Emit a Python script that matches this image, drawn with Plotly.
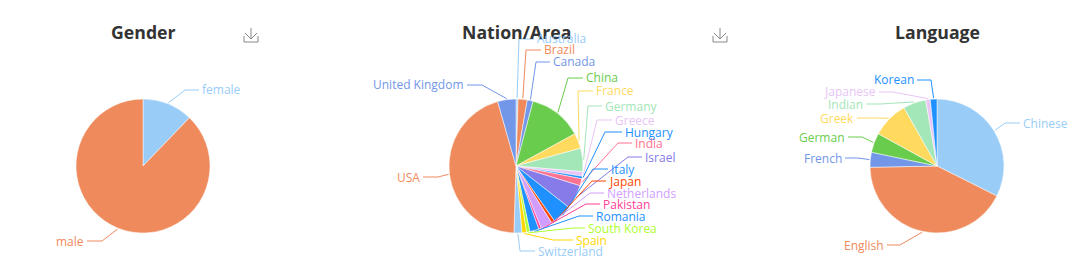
import math
import plotly.graph_objects as go

FONT = "Open Sans"

gender_labels = ["female", "male"]
gender_values = [12.2, 87.8]
gender_colors = ["#99CCF7", "#EF8A5C"]

nation_labels = ["Australia", "Brazil", "Canada", "China", "France", "Germany", "Greece",
                 "Hungary", "India", "Israel", "Italy", "Japan", "Netherlands", "Pakistan",
                 "Romania", "South Korea", "Spain", "Switzerland", "USA", "United Kingdom"]
nation_values = [0.5, 2.2, 1.4, 12.9, 3.7, 5.6, 1.1, 0.6, 1.7, 5.8, 4.7, 0.8, 2.8, 0.6,
                 2.2, 0.8, 1.1, 1.9, 45.0, 4.4]
nation_colors = ["#99CCF7", "#EF8A5C", "#7296E8", "#69CC4C", "#FFDA5F", "#A3E6B7", "#E8C5F5",
                 "#1E90FF", "#FF7290", "#867BE8", "#1E90FF", "#FF4500", "#D19EFF", "#FF3E96",
                 "#1E90FF", "#ADFF2F", "#FFD700", "#99CCF7", "#EF8A5C", "#7296E8"]

language_labels = ["Chinese", "English", "French", "German", "Greek", "Indian", "Japanese", "Korean"]
language_values = [32.4, 42.3, 3.6, 4.7, 8.8, 5.5, 1.1, 1.6]
language_colors = ["#99CCF7", "#EF8A5C", "#7296E8", "#69CC4C", "#FFDA5F", "#A3E6B7", "#E8C5F5", "#1E90FF"]

titles = ["Gender", "Nation/Area", "Language"]

W, H, R, CY = 1080, 265, 67, 166

# Layout only: label side and leader-line knee / end in page pixels
gender_layout = [("l", 185, 90, 199, 90), ("r", 102, 241, 87, 241)]
nation_layout = [
    ("l", 519, 39, 534, 39), ("l", 526, 50, 541, 50), ("l", 536, 62, 550, 62),
    ("l", 568, 78, 583, 78), ("l", 578, 91, 593, 91), ("l", 588, 106, 602, 106),
    ("l", 597, 120, 612, 120), ("l", 605, 132, 622, 132), ("l", 618, 143, 632, 143),
    ("l", 628, 157, 642, 157), ("l", 593, 169, 608, 169), ("l", 592, 181, 606, 181),
    ("l", 590, 193, 604, 193), ("l", 586, 204, 600, 204), ("l", 579, 216, 593, 216),
    ("l", 573, 228, 585, 228), ("l", 553, 240, 573, 240), ("l", 520, 251, 535, 251),
    ("r", 438, 177, 423, 177), ("r", 482, 85, 467, 85),
]
language_layout = [
    ("l", 1005, 123, 1020, 123), ("r", 900, 245, 887, 245), ("r", 858, 158, 845, 158),
    ("r", 862, 137, 848, 137), ("r", 876, 118, 857, 118), ("r", 880, 104, 866, 104),
    ("r", 893, 92, 879, 92), ("r", 931, 80, 917, 80),
]

charts = [
    (143, gender_labels, gender_values, gender_colors, gender_layout),
    (516, nation_labels, nation_values, nation_colors, nation_layout),
    (937, language_labels, language_values, language_colors, language_layout),
]

px = lambda x: x / W
py = lambda y: 1 - y / H

fig = go.Figure()
shapes, annotations = [], []

for (cx, labels, values, colors, spots), title in zip(charts, titles):
    fig.add_trace(go.Pie(
        labels=labels, values=values, sort=False, direction="clockwise", rotation=0,
        textinfo="none", showlegend=False, automargin=False,
        marker=dict(colors=colors, line=dict(color="#ffffff", width=0.5)),
        domain=dict(x=[px(cx - R), px(cx + R)], y=[py(CY + R), py(CY - R)]),
    ))
    annotations.append(dict(
        text=f"<b>{title}</b>", x=px(cx), y=py(32), xref="paper", yref="paper",
        xanchor="center", yanchor="middle", showarrow=False,
        font=dict(family=FONT, size=17.7, color="#333333"),
    ))
    total = sum(values)
    run = 0
    for label, value, color, (side, kx, ky, ex, ey) in zip(labels, values, colors, spots):
        mid = (run + value / 2) / total * 2 * math.pi
        run += value
        sx, sy = cx + (R + 1) * math.sin(mid), CY - (R + 1) * math.cos(mid)
        shapes.append(dict(
            type="path", xref="paper", yref="paper",
            path=f"M {px(sx)} {py(sy)} L {px(kx)} {py(ky)} L {px(ex)} {py(ey)}",
            line=dict(color=color, width=1), layer="above",
        ))
        annotations.append(dict(
            text=label, x=px(ex + (1 if side == "l" else -1)), y=py(ey),
            xref="paper", yref="paper", showarrow=False,
            xanchor="left" if side == "l" else "right", yanchor="middle",
            font=dict(family=FONT, size=12, color=color),
        ))

# download icons
for ix in (251, 720):
    for path in (
        f"M {px(ix-7)} {py(36)} L {px(ix-7)} {py(42)} L {px(ix+7)} {py(42)} L {px(ix+7)} {py(36)}",
        f"M {px(ix)} {py(28)} L {px(ix)} {py(39)}",
        f"M {px(ix-6)} {py(33)} L {px(ix)} {py(39)} L {px(ix+6)} {py(33)}",
    ):
        shapes.append(dict(type="path", xref="paper", yref="paper", path=path,
                           line=dict(color="#888888", width=1)))

fig.update_layout(
    width=W, height=H, margin=dict(l=0, r=0, t=0, b=0),
    paper_bgcolor="#ffffff", plot_bgcolor="#ffffff",
    shapes=shapes, annotations=annotations,
)
fig.write_html("out.html", config={"displayModeBar": False},
               post_script="document.body.style.margin='0';document.body.style.overflow='hidden';")
